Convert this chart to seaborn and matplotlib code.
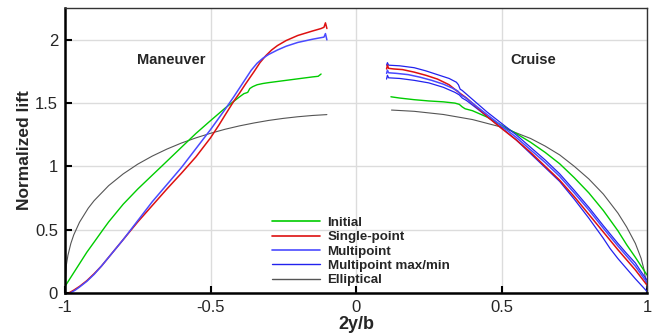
import numpy as np
import pandas as pd
import seaborn as sns
import matplotlib
matplotlib.use("Agg")
import matplotlib.pyplot as plt
from matplotlib.lines import Line2D

# ---------------- data ----------------
# Maneuver side (left half, x < 0)
man_ell_x = [-1.0, -0.995, -0.99, -0.98, -0.97, -0.95, -0.92, -0.9, -0.85, -0.8, -0.75, -0.7, -0.65, -0.6,
             -0.55, -0.5, -0.45, -0.4, -0.35, -0.3, -0.25, -0.2, -0.15, -0.1]
man_ell_y = [0.0, 0.224, 0.295, 0.389, 0.457, 0.558, 0.669, 0.728, 0.847, 0.940, 1.017, 1.081, 1.136, 1.184,
             1.225, 1.261, 1.293, 1.320, 1.343, 1.363, 1.379, 1.392, 1.402, 1.409]

man_init_x = [-1.0, -0.975, -0.95, -0.925, -0.9, -0.869, -0.85, -0.8, -0.75, -0.7, -0.668, -0.6, -0.55, -0.503,
              -0.45, -0.4, -0.385, -0.378, -0.372, -0.365, -0.355, -0.34, -0.32, -0.3, -0.25, -0.2, -0.15, -0.13, -0.12]
man_init_y = [0.05, 0.14, 0.23, 0.32, 0.40, 0.50, 0.56, 0.70, 0.82, 0.93, 1.00, 1.15, 1.26, 1.355,
              1.46, 1.55, 1.575, 1.58, 1.585, 1.615, 1.63, 1.645, 1.655, 1.662, 1.677, 1.692, 1.707, 1.712, 1.73]

man_sp_x = [-0.985, -0.97, -0.95, -0.925, -0.9, -0.875, -0.85, -0.825, -0.8, -0.775, -0.75, -0.7, -0.65, -0.6,
            -0.55, -0.5, -0.47, -0.45, -0.42, -0.4, -0.38, -0.35, -0.33, -0.31, -0.29, -0.27, -0.24, -0.2,
            -0.15, -0.12, -0.11, -0.105, -0.1]
man_sp_y = [0.0, 0.02, 0.05, 0.095, 0.15, 0.21, 0.28, 0.35, 0.42, 0.49, 0.56, 0.69, 0.82, 0.945,
            1.075, 1.225, 1.33, 1.405, 1.515, 1.58, 1.65, 1.75, 1.82, 1.875, 1.92, 1.955, 1.995, 2.035,
            2.07, 2.09, 2.10, 2.135, 2.09]

man_mp_x = [-0.98, -0.965, -0.95, -0.925, -0.9, -0.875, -0.85, -0.825, -0.8, -0.775, -0.75, -0.7, -0.65, -0.6,
            -0.55, -0.5, -0.45, -0.42, -0.4, -0.38, -0.36, -0.34, -0.32, -0.3, -0.27, -0.24, -0.2, -0.15,
            -0.12, -0.11, -0.105, -0.1]
man_mp_y = [0.0, 0.02, 0.045, 0.09, 0.145, 0.21, 0.28, 0.35, 0.42, 0.495, 0.57, 0.72, 0.855, 0.99,
            1.14, 1.29, 1.45, 1.55, 1.62, 1.69, 1.76, 1.815, 1.855, 1.885, 1.92, 1.95, 1.98, 2.005,
            2.018, 2.022, 2.05, 2.0]

# Cruise side (right half, x > 0)
cru_ell_x = [0.122, 0.2, 0.3, 0.4, 0.5, 0.6, 0.65, 0.7, 0.75, 0.8, 0.85, 0.9, 0.93, 0.96, 0.98, 0.99, 1.0]
cru_ell_y = [1.445, 1.435, 1.41, 1.37, 1.31, 1.22, 1.16, 1.09, 1.00, 0.90, 0.78, 0.63, 0.52, 0.39, 0.27, 0.18, 0.04]

cru_init_x = [0.12, 0.15, 0.2, 0.25, 0.3, 0.34, 0.355, 0.365, 0.375, 0.4, 0.45, 0.5, 0.55, 0.6, 0.65, 0.7,
              0.75, 0.8, 0.85, 0.9, 0.93, 0.96, 0.98, 1.0]
cru_init_y = [1.55, 1.54, 1.527, 1.517, 1.51, 1.50, 1.49, 1.47, 1.455, 1.44, 1.39, 1.325, 1.26, 1.19, 1.11, 1.02,
              0.91, 0.79, 0.65, 0.49, 0.38, 0.28, 0.21, 0.14]

cru_sp_x = [0.105, 0.108, 0.112, 0.13, 0.16, 0.2, 0.24, 0.28, 0.32, 0.35, 0.38, 0.414, 0.45, 0.5, 0.55, 0.6,
            0.65, 0.7, 0.75, 0.8, 0.85, 0.9, 0.93, 0.96, 0.98, 1.0]
cru_sp_y = [1.77, 1.80, 1.775, 1.77, 1.765, 1.745, 1.72, 1.69, 1.645, 1.59, 1.54, 1.47, 1.395, 1.30, 1.21, 1.11,
            1.0, 0.89, 0.76, 0.62, 0.48, 0.34, 0.26, 0.18, 0.12, 0.06]

cru_mp_x = [0.105, 0.108, 0.112, 0.14, 0.18, 0.22, 0.26, 0.3, 0.33, 0.35, 0.36, 0.375, 0.4, 0.45, 0.5, 0.55,
            0.6, 0.65, 0.7, 0.75, 0.8, 0.85, 0.9, 0.93, 0.96, 0.98, 1.0]
cru_mp_y = [1.735, 1.76, 1.74, 1.735, 1.725, 1.705, 1.68, 1.65, 1.62, 1.595, 1.565, 1.545, 1.50, 1.41, 1.32, 1.23,
            1.13, 1.03, 0.92, 0.79, 0.655, 0.51, 0.37, 0.29, 0.21, 0.145, 0.08]

cru_max_x = [0.105, 0.108, 0.112, 0.15, 0.2, 0.24, 0.28, 0.32, 0.345, 0.352, 0.358, 0.365, 0.4, 0.45, 0.5, 0.55,
             0.6, 0.65, 0.7, 0.75, 0.8, 0.85, 0.9, 0.93, 0.96, 0.98, 1.0]
cru_max_y = [1.80, 1.82, 1.80, 1.795, 1.78, 1.755, 1.725, 1.695, 1.665, 1.645, 1.61, 1.60, 1.53, 1.43, 1.34, 1.25,
             1.15, 1.05, 0.94, 0.81, 0.675, 0.53, 0.39, 0.31, 0.235, 0.165, 0.10]

cru_min_x = [0.105, 0.108, 0.112, 0.15, 0.2, 0.25, 0.3, 0.34, 0.355, 0.365, 0.38, 0.414, 0.45, 0.5, 0.55, 0.6,
             0.65, 0.7, 0.75, 0.8, 0.85, 0.873, 0.9, 0.93, 0.96, 0.98, 1.0]
cru_min_y = [1.69, 1.72, 1.70, 1.695, 1.68, 1.66, 1.625, 1.585, 1.565, 1.54, 1.52, 1.46, 1.395, 1.305, 1.21, 1.10,
             0.99, 0.88, 0.74, 0.59, 0.43, 0.35, 0.27, 0.19, 0.11, 0.06, 0.01]

legend_labels = ["Initial", "Single-point", "Multipoint", "Multipoint max/min", "Elliptical"]
x_ticks = [-1, -0.5, 0, 0.5, 1]
x_ticklabels = ["-1", "-0.5", "0", "0.5", "1"]
y_ticks = [0, 0.5, 1, 1.5, 2]
y_ticklabels = ["0", "0.5", "1", "1.5", "2"]

# ---------------- style ----------------
sns.set_style("white")
plt.rcParams["font.family"] = ["Liberation Sans", "DejaVu Sans"]

C_INIT = "#00cc00"
C_SP = "#dd1111"
C_MP = "#4a4aff"
C_MM = "#2222ee"
C_ELL = "#555555"

fig = plt.figure(figsize=(6.62, 3.35), dpi=100)
ax = fig.add_axes([65 / 662, (335 - 292.7) / 335, 582 / 662, 284.4 / 335])

def draw(x, y, color, lw):
    sns.lineplot(x=np.array(x), y=np.array(y), ax=ax, color=color, linewidth=lw,
                 sort=False, estimator=None, legend=False)

draw(man_ell_x, man_ell_y, C_ELL, 0.8)
draw(cru_ell_x, cru_ell_y, C_ELL, 0.8)
draw(man_init_x, man_init_y, C_INIT, 1.0)
draw(cru_init_x, cru_init_y, C_INIT, 1.0)
draw(cru_max_x, cru_max_y, C_MM, 0.9)
draw(cru_min_x, cru_min_y, C_MM, 0.9)
draw(man_sp_x, man_sp_y, C_SP, 1.1)
draw(cru_sp_x, cru_sp_y, C_SP, 1.1)
draw(man_mp_x, man_mp_y, C_MP, 1.1)
draw(cru_mp_x, cru_mp_y, C_MP, 1.1)

ax.set_xlim(-1, 1)
ax.set_ylim(0, 2.25)
ax.set_xticks(x_ticks)
ax.set_xticklabels(x_ticklabels)
ax.set_yticks(y_ticks)
ax.set_yticklabels(y_ticklabels)
ax.grid(True, color="#dcdcdc", linewidth=1.0)
ax.set_axisbelow(True)
ax.tick_params(axis="both", direction="in", length=5, width=1.5, labelsize=12,
               color="black", pad=5, bottom=True, left=True)

for s in ["left", "bottom"]:
    ax.spines[s].set_linewidth(1.8)
    ax.spines[s].set_color("black")
for s in ["top", "right"]:
    ax.spines[s].set_linewidth(1.0)
    ax.spines[s].set_color("#333333")

ax.set_xlabel("2y/b", fontsize=13, fontweight="bold", labelpad=1)
ax.set_ylabel("Normalized lift", fontsize=12.5, fontweight="bold", labelpad=2)

ax.text(-0.634, 1.84, "Maneuver", fontsize=10.5, fontweight="bold", ha="center", va="center")
ax.text(0.608, 1.84, "Cruise", fontsize=10.5, fontweight="bold", ha="center", va="center")

handles = [Line2D([], [], color=C_INIT, lw=1.2),
           Line2D([], [], color=C_SP, lw=1.2),
           Line2D([], [], color=C_MP, lw=1.2),
           Line2D([], [], color=C_MM, lw=1.0),
           Line2D([], [], color=C_ELL, lw=1.0)]
leg = ax.legend(handles, legend_labels, loc="upper left", bbox_to_anchor=(0.356, 0.267),
                frameon=False, fontsize=9.6, handlelength=3.6, handletextpad=0.55,
                labelspacing=0.15, borderpad=0, borderaxespad=0)
for t in leg.get_texts():
    t.set_fontweight("bold")

fig.savefig("out.png", dpi=100)
